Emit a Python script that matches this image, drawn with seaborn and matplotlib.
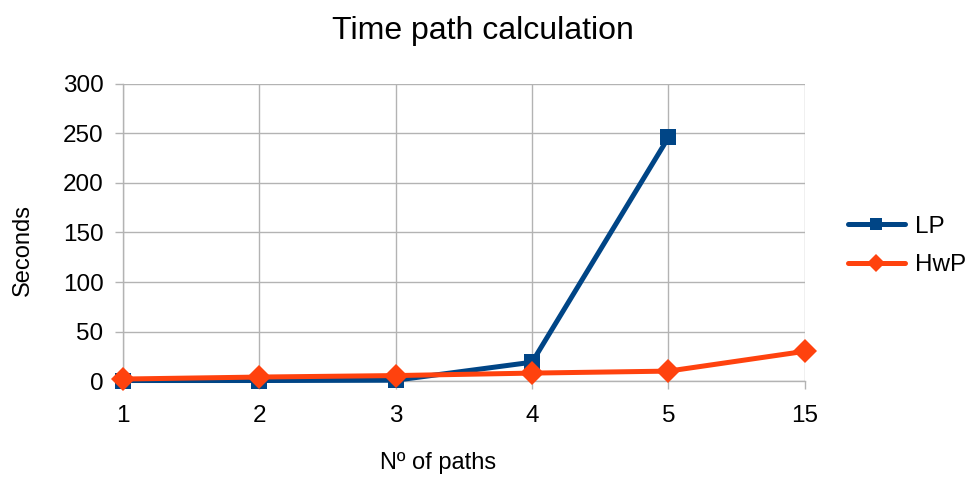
import matplotlib
matplotlib.use("Agg")
import matplotlib.pyplot as plt
import seaborn as sns
import pandas as pd

categories = ["1", "2", "3", "4", "5", "15"]
lp_seconds = [0.5, 0.5, 0.8, 19, 246, None]
hwp_seconds = [2, 4, 5.5, 8, 10, 30]
y_ticks = [0, 50, 100, 150, 200, 250, 300]

sns.set_theme(style="white")
plt.rcParams["font.family"] = ["Liberation Sans", "DejaVu Sans"]
plt.rcParams["text.color"] = "black"
plt.rcParams["axes.labelcolor"] = "black"

rows = []
for c, v in zip(categories, lp_seconds):
    if v is not None:
        rows.append({"paths": c, "seconds": v, "method": "LP"})
for c, v in zip(categories, hwp_seconds):
    rows.append({"paths": c, "seconds": v, "method": "HwP"})
df = pd.DataFrame(rows)

fig = plt.figure(figsize=(9.72, 4.78), dpi=100)
ax = fig.add_axes([0.1265, 0.2029, 0.828 - 0.1265, 0.8243 - 0.2029])

# register category order on the x axis
ax.plot(categories, [None] * len(categories))

palette = {"LP": "#004586", "HwP": "#ff420e"}
sns.lineplot(data=df, x="paths", y="seconds", hue="method", style="method",
             hue_order=["LP", "HwP"], palette=palette,
             markers={"LP": "s", "HwP": "D"}, dashes=False,
             linewidth=3.6, markersize=12, markeredgewidth=0, ax=ax,
             sort=False, zorder=3)
for line in ax.lines:
    line.set_clip_on(False)

ax.set_xlim(0, len(categories) - 1)
ax.set_ylim(0, 300)
ax.set_yticks(y_ticks)
ax.set_xticks(range(len(categories)))
ax.set_xticklabels(categories)

ax.grid(True, color="#b3b3b3", linewidth=1)
ax.set_axisbelow(True)
for s in ["top", "right"]:
    ax.spines[s].set_visible(False)
for s in ["left", "bottom"]:
    ax.spines[s].set_color("#b3b3b3")
    ax.spines[s].set_linewidth(1)
ax.tick_params(axis="both", which="both", length=6, width=1, color="#b3b3b3",
               labelsize=17.5, labelcolor="black", direction="out",
               left=True, bottom=True)
ax.tick_params(axis="x", pad=11)
ax.tick_params(axis="y", pad=8)

ax.set_xlabel("Nº of paths", fontsize=17, color="black")
ax.set_ylabel("Seconds", fontsize=17, color="black")
ax.xaxis.set_label_coords(0.462, -0.24)
ax.yaxis.set_label_coords(-0.131, 0.44)
fig.text(0.497, 1 - 31 / 478, "Time path calculation", fontsize=23,
         ha="center", va="center", color="black")

leg = ax.legend(loc="center left", bbox_to_anchor=(1.063, 0.455), frameon=False,
                fontsize=17.5, handlelength=2.35, handletextpad=0.4,
                labelspacing=0.68, borderaxespad=0, borderpad=0, title=None)
for h in leg.legend_handles:
    h.set_markersize(9)
for t in leg.get_texts():
    t.set_color("black")

fig.savefig("out.png", dpi=100)
